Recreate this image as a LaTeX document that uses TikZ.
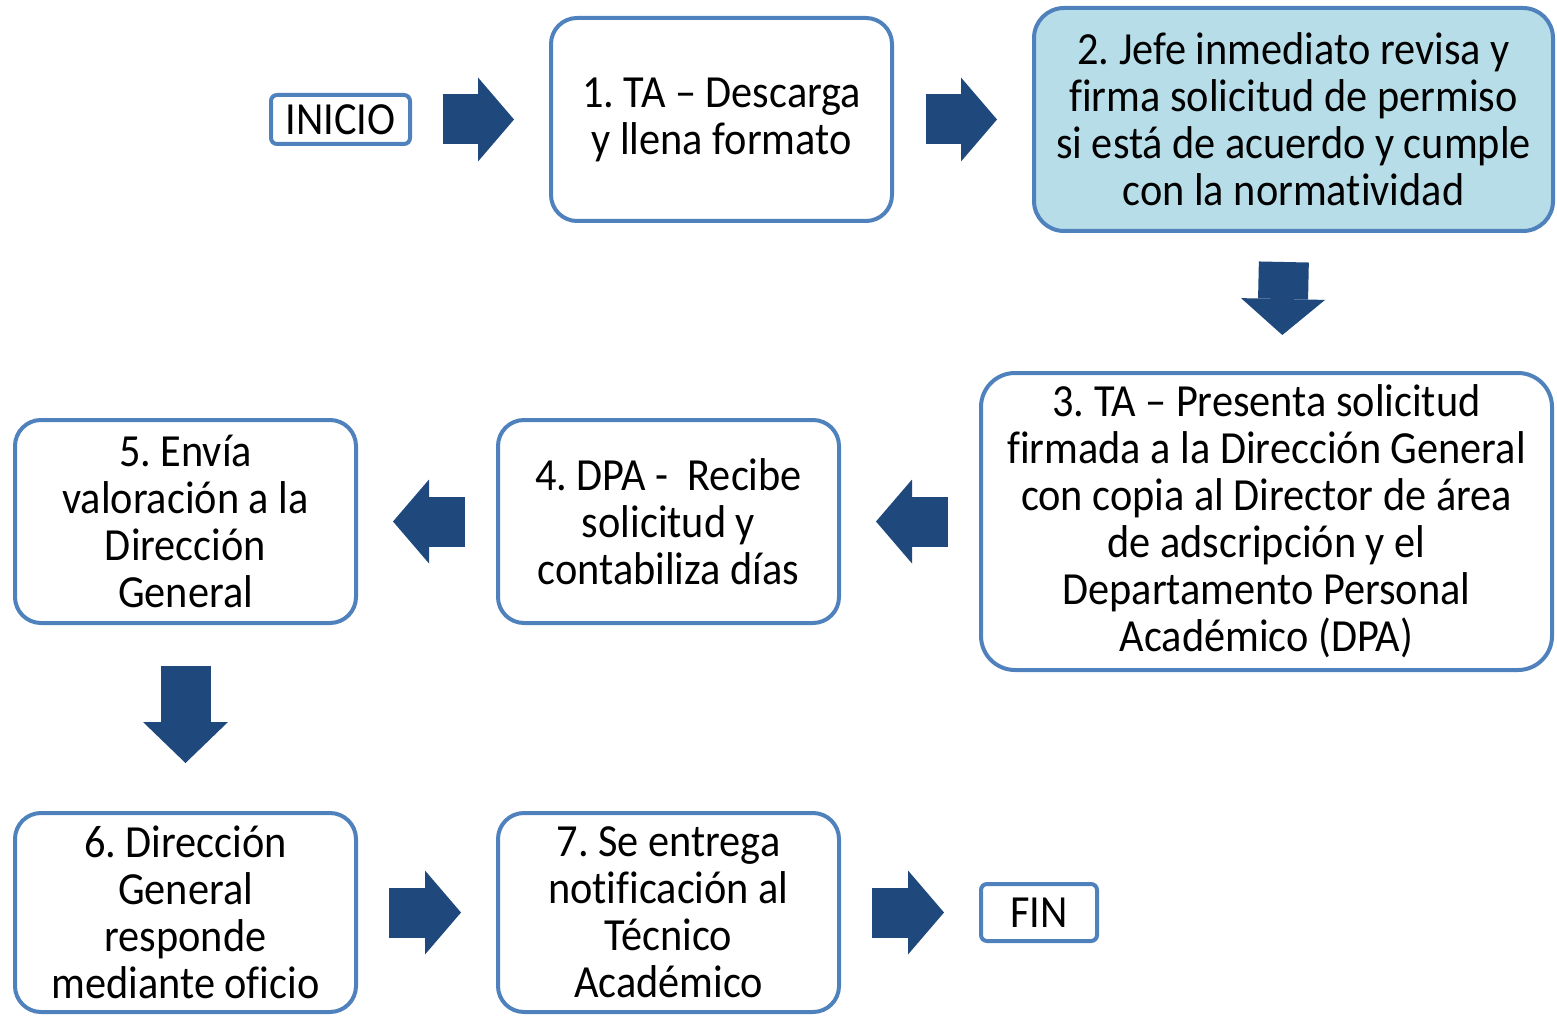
\documentclass[tikz,border=0pt]{standalone}
\usepackage{fontspec}
\setmainfont{Carlito}[FakeStretch=0.92, Ligatures=NoCommon]
\usetikzlibrary{arrows.meta}
\definecolor{BoxLine}{RGB}{79,129,189}
\definecolor{ArrowFill}{RGB}{31,73,125}
\definecolor{BoxFill}{RGB}{183,221,232}
\frenchspacing

\begin{document}
\begin{tikzpicture}[x=0.5pt, y=-0.5pt,
        MyBox/.style={draw=BoxLine, line width=2pt, rounded corners=13pt, fill=white, align=center, outer sep=0pt, inner sep=0pt, font=\fontsize{23}{23.5}\selectfont, minimum width=170.5pt, minimum height=101.5pt},
        MyArrow/.style={draw=ArrowFill, line width=25pt, -{Triangle[length=18pt, width=42pt, line width=0pt]}, shorten <=16.5pt, shorten >=18.5pt},
        ]
    \useasboundingbox (0,0) rectangle (1557,1016);
    \node [MyBox, rounded corners=3pt, minimum width=69.5pt, minimum height=24.5pt] (ini) at (340.5,119.5) {INICIO};
    \node [MyBox] (1) at (721.5,119.5) {1. TA – Descarga\\y llena formato};
    \node [MyBox, rounded corners=15pt, fill=BoxFill, minimum width=259.5pt, minimum height=111.5pt] (2) at (1293.5,119.5) {2. Jefe inmediato revisa y\\firma solicitud de permiso\\si está de acuerdo y cumple\\con la normatividad};
    \node [MyBox, rounded corners=17pt, minimum width=285.5pt, minimum height=148.5pt] (3) at (1266.5,521.5) {3. TA – Presenta solicitud\\firmada a la Dirección General\\con copia al Director de área\\de adscripción y el\\Departamento Personal\\Académico (DPA)};
    \node [MyBox] (4) at (668.5,521.5) {4. DPA -\ \ Recibe\\solicitud y\\contabiliza días};
    \node [MyBox] (5) at (185.5,521.5) {5. Envía\\valoración a la\\Dirección\\General};
    \node [MyBox, minimum height=99.5pt] (6) at (185.5,912.5) {6. Dirección\\General\\responde\\mediante oficio};
    \node [MyBox, minimum height=99.5pt] (7) at (668.5,912.5) {7. Se entrega\\notificación al\\Técnico\\Académico};
    \node [MyBox, rounded corners=3pt, minimum width=58pt, minimum height=28.5pt] (fin) at (1039,912.5) {FIN};
    % block arrows
    \draw [MyArrow] (ini) -- (1);
    \draw [MyArrow, shorten <=17pt] (1) -- (2);
    \draw [MyArrow, shorten <=15.5pt, shorten >=19pt] ([xshift=-4.5pt]2.south) -- ([xshift=7.5pt]3.north);
    \draw [MyArrow] (3) -- (4);
    \draw [MyArrow] (4) -- (5);
    \draw [MyArrow, -{Triangle[length=20.5pt, width=42.5pt, line width=0pt]}, shorten <=21.5pt, shorten >=25pt] (5) -- (6);
    \draw [MyArrow] (6) -- (7);
    \draw [MyArrow] (7) -- (fin);
\end{tikzpicture}
\end{document}
